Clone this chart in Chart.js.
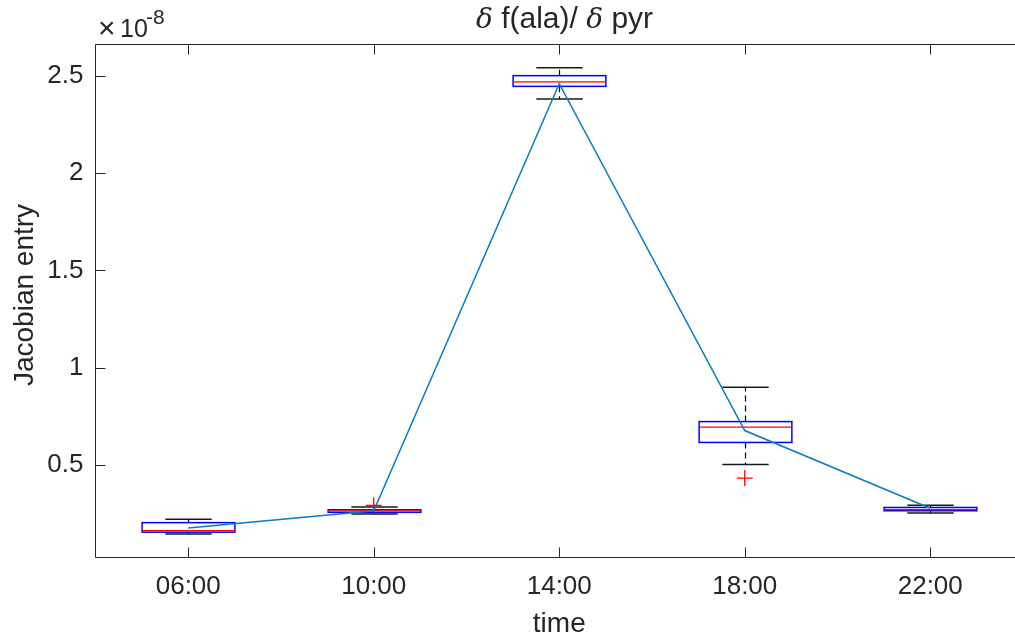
<!DOCTYPE html>
<html>
<head>
<meta charset="utf-8">
<script src="https://cdn.jsdelivr.net/npm/chart.js@4.4.1/dist/chart.umd.min.js"></script>
<style>
  html, body { margin: 0; padding: 0; background: #fff; overflow: hidden; }
  #wrap { width: 1040px; height: 641px; }
</style>
</head>
<body>
<div id="wrap"><canvas id="boxchart" width="1040" height="641"></canvas></div>
<script>
// values in units of 1e-8
const times       = ['06:00', '10:00', '14:00', '18:00', '22:00'];
const positions   = [1, 2, 3, 4, 5];
const whiskerLow  = [0.146, 0.249, 2.380, 0.503, 0.253];
const boxLow      = [0.155, 0.257, 2.445, 0.616, 0.265];
const medians     = [0.163, 0.265, 2.468, 0.695, 0.271];
const boxHigh     = [0.204, 0.270, 2.500, 0.723, 0.282];
const whiskerHigh = [0.222, 0.284, 2.540, 0.900, 0.294];
const meanLine    = [0.176, 0.265, 2.459, 0.677, 0.278];
const outlierPos  = [2, 4];
const outlierVals = [0.292, 0.433];
const yTicks      = [0.5, 1, 1.5, 2, 2.5];

const TEXT = '#262626';
const SANS = '"Liberation Sans", Arial, Helvetica, sans-serif';
const SERIF_I = 'italic 28px "DejaVu Serif", "Liberation Serif", serif';

const boxPlugin = {
  id: 'boxes',
  beforeDatasetsDraw(chart) {
    const ctx = chart.ctx;
    const xs = chart.scales.x, ys = chart.scales.y;
    ctx.save();
    for (let i = 0; i < positions.length; i++) {
      const x = Math.round(xs.getPixelForValue(positions[i])) + 0.5;
      const hw = xs.getPixelForValue(positions[i] + 0.25) - xs.getPixelForValue(positions[i]);
      const cw = hw / 2;
      // dashed whiskers
      ctx.strokeStyle = '#000';
      ctx.lineWidth = 1.2;
      ctx.setLineDash([6, 4]);
      ctx.beginPath();
      ctx.moveTo(x, ys.getPixelForValue(boxHigh[i]));
      ctx.lineTo(x, ys.getPixelForValue(whiskerHigh[i]));
      ctx.moveTo(x, ys.getPixelForValue(boxLow[i]));
      ctx.lineTo(x, ys.getPixelForValue(whiskerLow[i]));
      ctx.stroke();
      ctx.setLineDash([]);
      // caps
      ctx.strokeStyle = '#1a1a1a';
      ctx.lineWidth = 1.5;
      ctx.beginPath();
      ctx.moveTo(x - cw, ys.getPixelForValue(whiskerHigh[i]));
      ctx.lineTo(x + cw, ys.getPixelForValue(whiskerHigh[i]));
      ctx.moveTo(x - cw, ys.getPixelForValue(whiskerLow[i]));
      ctx.lineTo(x + cw, ys.getPixelForValue(whiskerLow[i]));
      ctx.stroke();
      // box
      const top = ys.getPixelForValue(boxHigh[i]);
      const bot = ys.getPixelForValue(boxLow[i]);
      ctx.strokeStyle = '#0000ff';
      ctx.lineWidth = 1.5;
      ctx.strokeRect(x - hw, top, hw * 2, bot - top);
      // median
      ctx.strokeStyle = '#ff0000';
      ctx.lineWidth = 1.3;
      ctx.beginPath();
      ctx.moveTo(x - hw, ys.getPixelForValue(medians[i]));
      ctx.lineTo(x + hw, ys.getPixelForValue(medians[i]));
      ctx.stroke();
    }
    ctx.restore();
  },
  afterDraw(chart) {
    const ctx = chart.ctx;
    const a = chart.chartArea;
    const xs = chart.scales.x, ys = chart.scales.y;
    ctx.save();
    // axes (right side falls outside the picture) + inward ticks
    ctx.strokeStyle = TEXT;
    ctx.lineWidth = 1;
    ctx.beginPath();
    ctx.moveTo(a.right, a.top); ctx.lineTo(a.left, a.top);
    ctx.lineTo(a.left, a.bottom); ctx.lineTo(a.right, a.bottom);
    positions.forEach(p => {
      const x = Math.round(xs.getPixelForValue(p)) + 0.5;
      ctx.moveTo(x, a.bottom); ctx.lineTo(x, a.bottom - 10);
      ctx.moveTo(x, a.top); ctx.lineTo(x, a.top + 10);
    });
    yTicks.forEach(v => {
      const y = Math.round(ys.getPixelForValue(v)) + 0.5;
      ctx.moveTo(a.left, y); ctx.lineTo(a.left + 10, y);
    });
    ctx.stroke();

    ctx.fillStyle = TEXT;
    // title: δ f(ala)/ δ pyr
    const parts = [
      ['δ', SERIF_I],
      [' f(ala)/ ', '30px ' + SANS],
      ['δ', SERIF_I],
      [' pyr', '30px ' + SANS]
    ];
    let tx = 476;
    ctx.textBaseline = 'alphabetic';
    ctx.textAlign = 'left';
    parts.forEach(p => { ctx.font = p[1]; ctx.fillText(p[0], tx, 28); tx += ctx.measureText(p[0]).width; });

    // axis labels
    ctx.font = '28px ' + SANS;
    ctx.textAlign = 'center';
    ctx.fillText('time', xs.getPixelForValue(3), 632);
    ctx.save();
    ctx.translate(33, (a.top + a.bottom) / 2 - 6);
    ctx.rotate(-Math.PI / 2);
    ctx.fillText('Jacobian entry', 0, 0);
    ctx.restore();

    // exponent
    ctx.textAlign = 'left';
    ctx.font = '30px ' + SANS;
    ctx.fillText('\u00d7', 98, 38);
    ctx.font = '25px ' + SANS;
    ctx.fillText('10', 120, 37);
    ctx.font = '21px ' + SANS;
    ctx.fillText('-8', 146, 24);
    ctx.restore();
  }
};

const chart = new Chart(document.getElementById('boxchart').getContext('2d'), {
  type: 'line',
  data: {
    datasets: [
      {
        data: positions.map((p, i) => ({ x: p, y: meanLine[i] })),
        borderColor: '#0a7cc4',
        borderWidth: 1.5,
        pointRadius: 0,
        tension: 0
      },
      {
        data: outlierPos.map((p, i) => ({ x: p, y: outlierVals[i] })),
        showLine: false,
        pointStyle: 'cross',
        pointRadius: 8,
        borderColor: '#ff0000',
        borderWidth: 1.3
      }
    ]
  },
  plugins: [boxPlugin],
  options: {
    responsive: false,
    animation: false,
    // canvas is wider than the window: the right edge of the axes is cut off
    layout: { padding: { left: 0, top: 44.5, right: 17, bottom: 0 } },
    plugins: { legend: { display: false }, title: { display: false }, tooltip: { enabled: false } },
    scales: {
      x: {
        type: 'linear',
        min: 0.5,
        max: 5.5,
        afterBuildTicks: s => { s.ticks = positions.map(v => ({ value: v })); },
        afterFit: s => { s.height = 83.5; },
        grid: { display: false, drawTicks: false },
        border: { display: false },
        ticks: {
          autoSkip: false,
          maxRotation: 0,
          padding: 14,
          color: TEXT,
          font: { family: SANS, size: 26 },
          callback: v => times[positions.indexOf(v)]
        }
      },
      y: {
        type: 'linear',
        min: 0.025,
        max: 2.66,
        afterBuildTicks: s => { s.ticks = yTicks.map(v => ({ value: v })); },
        afterFit: s => { s.width = 95.5; },
        grid: { display: false, drawTicks: false },
        border: { display: false },
        ticks: {
          autoSkip: false,
          padding: 12,
          color: TEXT,
          font: { family: SANS, size: 26 },
          callback: v => String(v)
        }
      }
    }
  }
});
</script>
</body>
</html>
